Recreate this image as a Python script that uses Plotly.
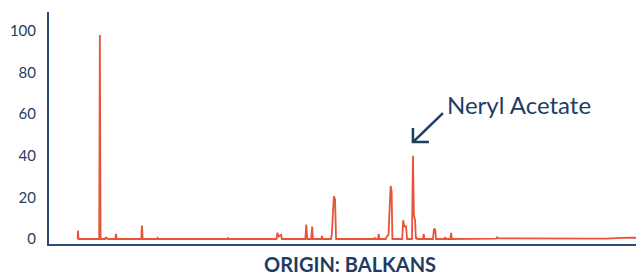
import plotly.graph_objects as go

# Chromatogram trace (retention time in minutes, relative intensity %)
rt = [2.93, 2.96, 3.02,
      5.13, 5.2, 5.27,
      5.75, 5.82, 5.92, 6.02,
      6.78, 6.85, 6.92,
      9.43, 9.5, 9.58,
      11.03, 11.1, 11.17,
      18.23, 18.3, 18.37,
      23.25, 23.35, 23.47, 23.72, 23.8,
      26.2, 26.3, 26.4,
      26.8, 26.9, 26.98,
      27.83, 27.9, 27.97,
      28.82, 28.9, 29.12, 29.24, 29.34,
      33.23, 33.3, 33.37,
      33.62, 33.7, 33.78,
      34.42, 34.5, 34.7, 34.92, 35.02, 35.1,
      36.1, 36.2, 36.32, 36.5, 36.6,
      37.1, 37.2, 37.3, 37.42, 37.5,
      37.58, 37.65,
      38.23, 38.3, 38.37,
      39.25, 39.35, 39.48, 39.56,
      40.43, 40.5, 40.57,
      41.02, 41.1, 41.18,
      45.7, 45.8, 45.9,
      50.0, 55.0, 57.0, 58.5, 60.0]
intensity = [0, 4, 0,
             0, 98, 0,
             0, 1, 0.3, 0,
             0, 2.5, 0,
             0, 6.5, 0,
             0, 0.5, 0,
             0, 0.7, 0,
             0, 3, 1.2, 2, 0,
             0, 7, 0,
             0, 6, 0,
             0, 1.5, 0,
             0, 2, 20.5, 19, 0,
             0, 0.5, 0,
             0, 2.5, 0,
             0, 1, 2, 25.5, 23, 0,
             0, 9, 6, 6, 0,
             0, 40, 11.5, 9, 0,
             0.5, 0,
             0, 2.5, 0,
             0, 5, 4.5, 0,
             0, 1, 0,
             0, 3, 0,
             0.2, 0.8, 0.3,
             0.2, 0.1, 0.2, 0.5, 0.6]

y_ticks = [0, 20, 40, 60, 80, 100]
title_text = "ORIGIN: BALKANS"
label_text = "Neryl Acetate"
label_rt = 37.2
label_val = 46.6

NAVY = "#1f3d63"
RED = "#e8533a"

fig = go.Figure()
fig.add_trace(go.Scatter(
    x=rt, y=intensity, mode="lines",
    line=dict(color=RED, width=1.8),
    hoverinfo="skip", showlegend=False,
))

fig.update_layout(
    width=636, height=278,
    margin=dict(l=49, r=0, t=12, b=34),
    paper_bgcolor="white", plot_bgcolor="white",
    font=dict(family="Lato", color=NAVY),
    xaxis=dict(range=[0, 60], showgrid=False, zeroline=False,
               showticklabels=False, ticks="",
               showline=True, linecolor="#2b4c74", linewidth=2),
    yaxis=dict(range=[-2.4, 109.1], showgrid=False, zeroline=False,
               tickvals=y_ticks, ticks="", ticklabelstandoff=8,
               tickfont=dict(family="Lato", size=15, color=NAVY),
               showline=True, linecolor="#2b4c74", linewidth=2),
)

# Title below the axis
fig.add_annotation(
    text=title_text, xref="paper", yref="paper",
    x=0.513, y=-0.141, xanchor="center", yanchor="bottom",
    showarrow=False, borderpad=0,
    font=dict(family="Lato", size=20, color=NAVY, weight="bold"),
)

# Label text
fig.add_annotation(
    text=label_text, xref="x", yref="y",
    x=label_rt, y=label_val, xanchor="left", yanchor="middle",
    xshift=32, yshift=38, showarrow=False,
    font=dict(family="Lato", size=24, color=NAVY),
)

# Chevron arrow pointing at the peak (pixel-sized, anchored to the data point)
fig.add_shape(
    type="path", xref="x", yref="y",
    xsizemode="pixel", ysizemode="pixel",
    xanchor=label_rt, yanchor=label_val,
    path="M 0,14 L 0,0 L 16,0 M 0,0 L 30,29",
    line=dict(color=NAVY, width=2.5),
)

fig.write_html("out.html", config={"displayModeBar": False},
               post_script="document.body.style.margin='0';")
